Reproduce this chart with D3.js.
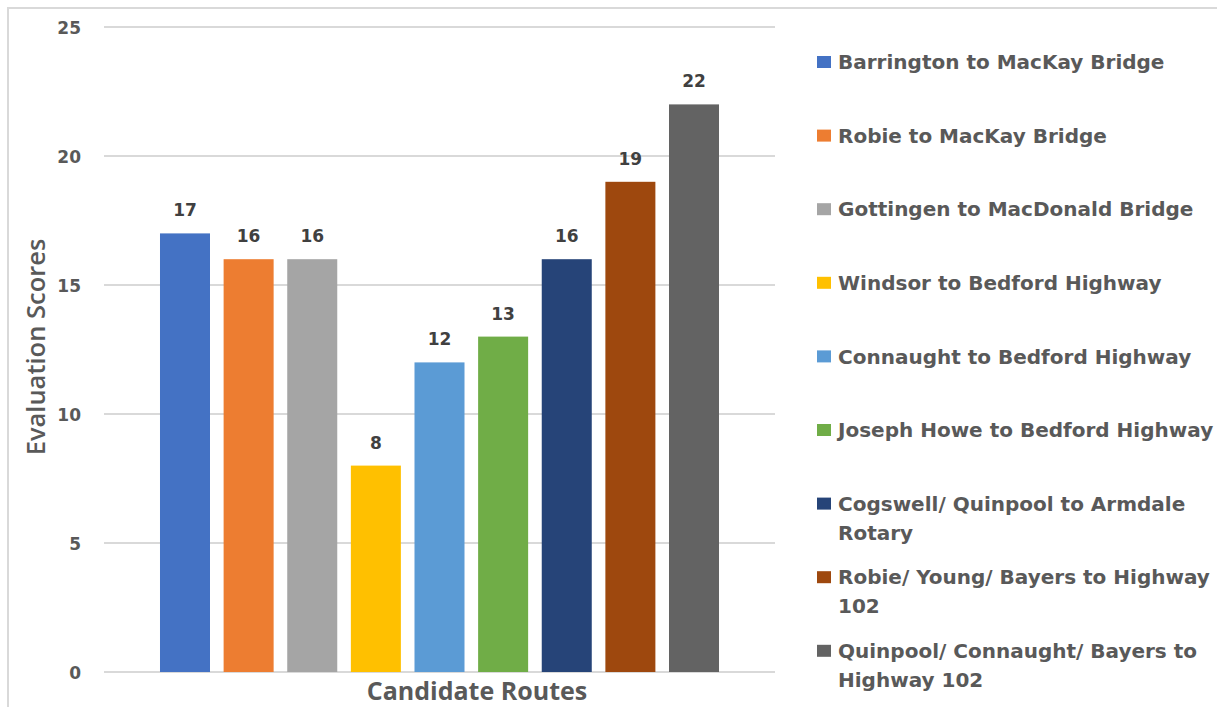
<!DOCTYPE html>
<html>
<head>
<meta charset="utf-8">
<script src="https://cdn.jsdelivr.net/npm/d3@7"></script>
<style>
  html, body { margin: 0; padding: 0; background: #ffffff; }
  svg { display: block; }
</style>
</head>
<body>
<svg id="chart" width="1217" height="707"></svg>
<script>
// ---- data ----
const routes = [
  "Barrington to MacKay Bridge",
  "Robie to MacKay Bridge",
  "Gottingen to MacDonald Bridge",
  "Windsor to Bedford Highway",
  "Connaught to Bedford Highway",
  "Joseph Howe to Bedford Highway",
  "Cogswell/ Quinpool to Armdale Rotary",
  "Robie/ Young/ Bayers to Highway 102",
  "Quinpool/ Connaught/ Bayers to Highway 102"
];
const scores = [17, 16, 16, 8, 12, 13, 16, 19, 22];
const colors = ["#4472C4", "#ED7D31", "#A5A5A5", "#FFC000", "#5B9BD5", "#70AD47", "#264478", "#9E480E", "#636363"];
const yTicks = [0, 5, 10, 15, 20, 25];
const xTitle = "Candidate Routes";
const yTitle = "Evaluation Scores";

// ---- layout ----
const svg = d3.select("#chart");
const plot = { left: 104, right: 775, top: 27, bottom: 672 };
const labelFont = "'DejaVu Sans', Verdana, sans-serif";
const titleFont = "'Open Sans', 'Noto Sans', sans-serif";
const textColor = "#595959";

// chart border (left + top visible)
svg.append("rect")
  .attr("x", 8).attr("y", 8)
  .attr("width", 1240).attr("height", 740)
  .attr("fill", "none").attr("stroke", "#d9d9d9").attr("stroke-width", 2);

const y = d3.scaleLinear().domain([0, 25]).range([plot.bottom, plot.top]);
const x = d3.scaleBand().domain(routes)
  .range([plot.left, plot.right])
  .paddingInner(0.214).paddingOuter(0.88);

// gridlines
svg.append("g").selectAll("line").data(yTicks).join("line")
  .attr("x1", plot.left).attr("x2", plot.right)
  .attr("y1", d => Math.round(y(d))).attr("y2", d => Math.round(y(d)))
  .attr("stroke", "#d9d9d9").attr("stroke-width", 2);

// y axis tick labels
const yAxis = d3.axisLeft(y).tickValues(yTicks).tickSize(0).tickPadding(0);
const yg = svg.append("g").attr("transform", "translate(81,0)").call(yAxis);
yg.select(".domain").remove();
yg.selectAll("text")
  .attr("font-family", labelFont).attr("font-weight", "bold")
  .attr("font-size", 17).attr("fill", textColor)
  .attr("dy", "0.36em");

// bars
svg.append("g").selectAll("rect").data(routes).join("rect")
  .attr("x", d => x(d))
  .attr("width", x.bandwidth())
  .attr("y", (d, i) => y(scores[i]))
  .attr("height", (d, i) => y(0) - y(scores[i]))
  .attr("fill", (d, i) => colors[i]);

// data labels
svg.append("g").selectAll("text").data(routes).join("text")
  .attr("x", d => x(d) + x.bandwidth() / 2)
  .attr("y", (d, i) => y(scores[i]) - 17)
  .attr("text-anchor", "middle")
  .attr("font-family", labelFont).attr("font-weight", "bold")
  .attr("font-size", 17).attr("fill", "#404040")
  .text((d, i) => scores[i]);

// axis titles
svg.append("text")
  .attr("x", 477).attr("y", 700)
  .attr("text-anchor", "middle")
  .attr("font-family", titleFont).attr("font-weight", 700)
  .attr("font-size", 25).attr("fill", textColor)
  .text(xTitle);

svg.append("text")
  .attr("transform", "translate(45,347) rotate(-90)")
  .attr("text-anchor", "middle")
  .attr("font-family", titleFont).attr("font-weight", 600)
  .attr("font-size", 25.5).attr("fill", textColor)
  .text(yTitle);

// legend
const legend = svg.append("g");
const legendX = 817, legendTextX = 838, legendTop = 62, legendStep = 73.6, lineH = 29, maxW = 382;
routes.forEach((name, i) => {
  const cy = legendTop + i * legendStep;
  legend.append("rect")
    .attr("x", legendX).attr("y", cy - 6)
    .attr("width", 14).attr("height", 12)
    .attr("fill", colors[i]);
  const t = legend.append("text")
    .attr("font-family", labelFont).attr("font-weight", "bold")
    .attr("font-size", 20).attr("fill", textColor);
  // word wrap
  const words = name.split(" ");
  let line = [];
  let lineNo = 0;
  let tspan = t.append("tspan").attr("x", legendTextX).attr("y", cy).attr("dy", "0.36em");
  words.forEach(w => {
    line.push(w);
    tspan.text(line.join(" "));
    if (tspan.node().getComputedTextLength() > maxW && line.length > 1) {
      line.pop();
      tspan.text(line.join(" "));
      line = [w];
      lineNo++;
      tspan = t.append("tspan").attr("x", legendTextX).attr("y", cy + lineNo * lineH).attr("dy", "0.36em").text(w);
    }
  });
});
</script>
</body>
</html>
